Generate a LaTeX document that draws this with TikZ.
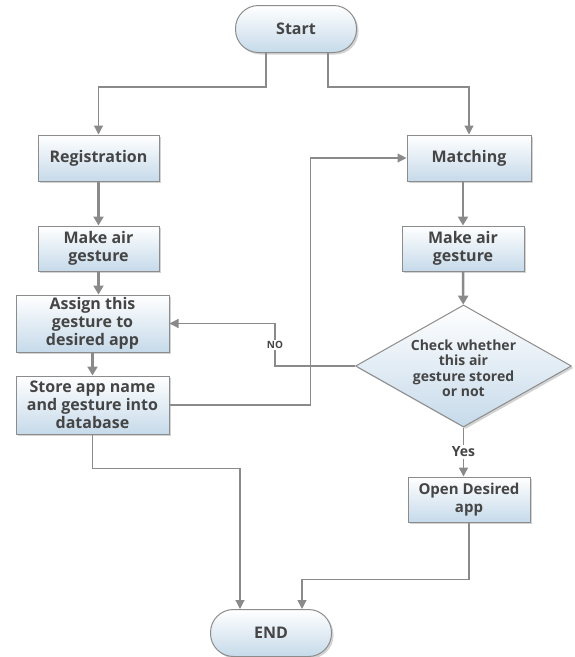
\documentclass[tikz,border=0pt]{standalone}
\usepackage{fontspec}
\newfontfamily\labfont{Open Sans}
\usetikzlibrary{shapes.geometric,shadows,arrows.meta}
\definecolor{txtc}{HTML}{454545}
\definecolor{edgec}{HTML}{8C8C8C}
\definecolor{linec}{HTML}{8A8A8A}
\definecolor{botc}{HTML}{C6DAEA}
\begin{document}
\begin{tikzpicture}[x=1pt,y=-1pt,
  base/.style={draw=edgec, line width=1pt, top color=white, bottom color=botc,
    drop shadow={shadow xshift=2pt, shadow yshift=-2pt, opacity=0.35, fill=gray},
    font=\labfont\bfseries\fontsize{16}{18}\selectfont, text=txtc, align=center, inner sep=0pt},
  stepbox/.style={base, rectangle, minimum width=#1, minimum height=46pt},
  term/.style={base, rectangle, rounded corners=23pt, minimum width=121pt, minimum height=47pt},
  decision/.style={base, diamond, inner sep=0pt, minimum width=216pt, minimum height=122pt, aspect=1.77},
  txt/.style={font=\labfont\bfseries\fontsize{14}{15.5}\selectfont, text=txtc, align=center, inner sep=0pt},
  thin arrow/.style={draw=linec, line width=1.2pt, -{Triangle[length=9pt,width=9pt]}},
  thick arrow/.style={draw=linec, line width=2.4pt, -{Triangle[length=9pt,width=10pt]}},
  lbl/.style={font=\labfont\bfseries\fontsize{10}{11}\selectfont, text=txtc, fill=white, inner sep=1.5pt}
]
\useasboundingbox (0,0) rectangle (574,657);

\node[term] (start) at (296,29) {Start};
\node[stepbox=121pt] (reg) at (98.5,158) {Registration};
\node[stepbox=121pt, minimum height=45pt] (make1) at (98.5,248.5) {Make air\\gesture};
\node[stepbox=153pt, minimum height=57pt] (assign) at (92.5,323.5) {Assign this\\gesture to\\desired app};
\node[stepbox=153pt, minimum height=58pt] (store) at (92.5,405) {Store app name\\and gesture into\\database};
\node[stepbox=124pt] (match) at (469,158) {Matching};
\node[stepbox=122pt, minimum height=45pt] (make2) at (463,248.5) {Make air\\gesture};
\node[decision] (check) at (463.5,366) {};
\node[txt] (checktxt) at ([yshift=-2pt]check.center) {Check whether\\this air\\gesture stored\\or not};
\node[stepbox=122pt, minimum height=45pt, font=\labfont\bfseries\fontsize{15}{18}\selectfont] (open) at (469,499.5) {Open Desired\\app};
\node[term] (end) at (271,633) {END};

% start branches
\draw[thin arrow] ([xshift=-30pt]start.south) -- ++(0,34) -| (reg.north);
\draw[thin arrow] ([xshift=32pt]start.south) -- ++(0,34) -| (match.north);

% left column
\draw[thick arrow] (reg) -- (make1);
\draw[thick arrow] (make1.south) -- (make1.south |- assign.north);
\draw[thick arrow] (assign) -- (store);

% right column
\draw[thick arrow] (make2.north |- match.south) -- (make2.north);
\draw[thick arrow] (make2) -- (check);
\draw[thin arrow, line width=1.6pt] (check.south) -- node[lbl, pos=0.5, font=\labfont\bfseries\fontsize{14}{15}\selectfont] (yes) {Yes} (check.south |- open.north);

% NO branch
\draw[thin arrow] (check.west) -- ++(-80,0) coordinate (nobend) |- (assign.east);
\node[lbl] (nolbl) at ([yshift=21pt]nobend) {NO};

% loop back to matching
\draw[thin arrow] (store.east) -- ++(141,0) coordinate (loopbend) |- (match.west);

% to end
\draw[thin arrow] (store.south) -- ++(0,34) -| ([xshift=-31pt]end.north);
\draw[thin arrow] (open.south) -- ++(0,57) -| ([xshift=31pt]end.north);
\end{tikzpicture}
\end{document}
